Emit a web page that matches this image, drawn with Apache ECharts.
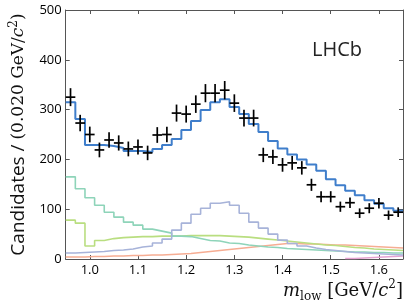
<!DOCTYPE html>
<html>
<head>
<meta charset="utf-8">
<script src="https://cdn.jsdelivr.net/npm/echarts@6/dist/echarts.min.js"></script>
<style>
html,body{margin:0;padding:0;background:#fff;}
#chart{width:407px;height:304px;}
</style>
</head>
<body>
<div id="chart"></div>
<script>
// Bin centres (GeV/c^2), bin width 0.020
const binCenters = [0.96,0.98,1.00,1.02,1.04,1.06,1.08,1.10,1.12,1.14,1.16,1.18,1.20,1.22,1.24,1.26,1.28,1.30,1.32,1.34,1.36,1.38,1.40,1.42,1.44,1.46,1.48,1.50,1.52,1.54,1.56,1.58,1.60,1.62,1.64];
const binWidth = 0.02;
// Data points (candidates per bin)
const dataCounts = [325,273,250,219,239,233,221,225,213,249,250,293,291,311,333,333,339,313,283,283,209,205,189,193,183,149,125,125,105,113,92,102,112,88,94];
// Total fit
const totalFit = [315,281,229,229,227,223,217,217,215,221,229,241,259,277,299,315,321,305,291,271,255,237,222,210,200,190,177,160,148,137,128,118,111,102,97];
// Fit components
const compTeal = [165,141,123,108,94,84,74,68,60,56,52,46,45,41,37,36,32,31,28,26,24,23,21,20,19,18,17,16,15,14,14,13,13,12,12];
const compGreen = [78,72,26,37,41,43,44,45,45,46,46,46,47,47,47,47,46,45,44,42,40,38,36,34,32,30,28,27,25,23,22,20,19,18,17];
const compLavender = [12,13,14,15,17,18,20,24,26,32,40,58,72,90,102,112,115,108,92,74,62,50,38,31,26,22,19,17,15,13,12,11,10,9,8];
const compOrange = [4,4,5,5,6,6,7,7,8,8,9,10,11,13,15,17,19,21,23,25,27,29,31,31,30,30,29,28,28,27,26,25,24,23,22];
const compPink = [null,null,null,null,null,null,null,null,null,null,null,null,null,null,null,null,null,null,null,null,null,null,null,null,null,null,null,null,null,1,2,3,4,5,6];
// Axis tick labels
const xTicks = [1.0,1.1,1.2,1.3,1.4,1.5,1.6];
const yTicks = [0,100,200,300,400,500];

const half = binWidth / 2;
function stepData(vals){
  const d = binCenters.map((c,i)=>[+(c-half).toFixed(3), vals[i]]);
  const n = binCenters.length - 1;
  d.push([+(binCenters[n]+half).toFixed(3), vals[n]]);
  return d;
}
function stepSeries(vals, color, width, z){
  return {type:'line', step:'end', symbol:'none', silent:true, z:z,
    data: stepData(vals), lineStyle:{color:color, width:width}, connectNulls:false};
}

const chart = echarts.init(document.getElementById('chart'), null, {renderer:'canvas'});
const sans = 'Open Sans';
const serif = 'DejaVu Serif';
const axisCol = '#555';

const option = {
  animation:false,
  textStyle:{fontFamily:sans},
  grid:{left:53, right:4, top:10, bottom:45, containLabel:false},
  xAxis:[
    {type:'value', min:0.95, max:1.65, position:'bottom',
     axisLine:{show:true, onZero:false, lineStyle:{color:axisCol, width:1}},
     axisTick:{show:true, inside:true, length:4, customValues:xTicks, lineStyle:{color:axisCol}},
     axisLabel:{customValues:xTicks, formatter:v=>v.toFixed(1), color:'#000', fontSize:13, margin:5, fontFamily:sans},
     splitLine:{show:false}},
    {type:'value', min:0.95, max:1.65, position:'top',
     axisLine:{show:true, onZero:false, lineStyle:{color:axisCol, width:1}},
     axisTick:{show:true, inside:true, length:4, customValues:xTicks, lineStyle:{color:axisCol}},
     axisLabel:{show:false}, splitLine:{show:false}}
  ],
  yAxis:[
    {type:'value', min:0, max:500, interval:100, position:'left',
     axisLine:{show:true, onZero:false, lineStyle:{color:axisCol, width:1}},
     axisTick:{show:true, inside:true, length:4, lineStyle:{color:axisCol}},
     axisLabel:{color:'#000', fontSize:13, margin:4, fontFamily:sans},
     splitLine:{show:false},
     name:'{s|Candidates / }{r|(0.020 GeV/}{i|c}{sup|2}{r|)}',
     nameLocation:'middle', nameRotate:90, nameGap:29,
     nameTextStyle:{color:'#111', rich:{
       s:{fontFamily:sans, fontSize:19, color:'#111', lineHeight:22},
       r:{fontFamily:serif, fontSize:17, color:'#111', lineHeight:22},
       i:{fontFamily:serif, fontSize:17, fontStyle:'italic', color:'#111', lineHeight:22},
       sup:{fontFamily:serif, fontSize:12, color:'#111', verticalAlign:'top', lineHeight:22}
     }}},
    {type:'value', min:0, max:500, interval:100, position:'right',
     axisLine:{show:true, onZero:false, lineStyle:{color:axisCol, width:1}},
     axisTick:{show:true, inside:true, length:4, lineStyle:{color:axisCol}},
     axisLabel:{show:false}, splitLine:{show:false}}
  ],
  graphic:[
    {type:'text', left:312, top:40, silent:true,
     style:{text:'LHCb', font:'20px "Open Sans"', fill:'#222'}},
    {type:'text', right:4, top:279, silent:true,
     style:{text:'{i|m}{sub|low}{r| [GeV/}{i|c}{sup|2}{r|]}',
       rich:{
         i:{fontFamily:serif, fontSize:18, fontStyle:'italic', fill:'#111', lineHeight:24},
         r:{fontFamily:serif, fontSize:18, fill:'#111', lineHeight:24},
         sub:{fontFamily:serif, fontSize:12, fill:'#111', verticalAlign:'bottom', lineHeight:24},
         sup:{fontFamily:serif, fontSize:12, fill:'#111', verticalAlign:'top', lineHeight:24}
       }}}
  ],
  series:[
    stepSeries(compOrange, '#f6ad93', 1.6, 2),
    stepSeries(compPink, '#e6a3d2', 1.6, 2),
    stepSeries(compGreen, '#b9de80', 1.6, 2),
    stepSeries(compTeal, '#8ed4b9', 1.6, 2),
    stepSeries(compLavender, '#a7b3d9', 1.6, 2),
    stepSeries(totalFit, '#3f7ecb', 2, 3),
    {type:'custom', silent:true, z:5,
     data: binCenters.map((c,i)=>[c, dataCounts[i]]),
     encode:{x:0, y:1},
     renderItem:function(params, api){
       const x = api.value(0), y = api.value(1);
       const e = Math.sqrt(y);
       const pl = api.coord([x-half, y]), pr = api.coord([x+half, y]);
       const pt = api.coord([x, y+e]), pb = api.coord([x, y-e]);
       const st = {stroke:'#000', lineWidth:1.7};
       return {type:'group', children:[
         {type:'line', shape:{x1:pl[0], y1:pl[1], x2:pr[0], y2:pr[1]}, style:st},
         {type:'line', shape:{x1:pt[0], y1:pt[1], x2:pb[0], y2:pb[1]}, style:st}
       ]};
     }}
  ]
};
chart.setOption(option);
</script>
</body>
</html>
